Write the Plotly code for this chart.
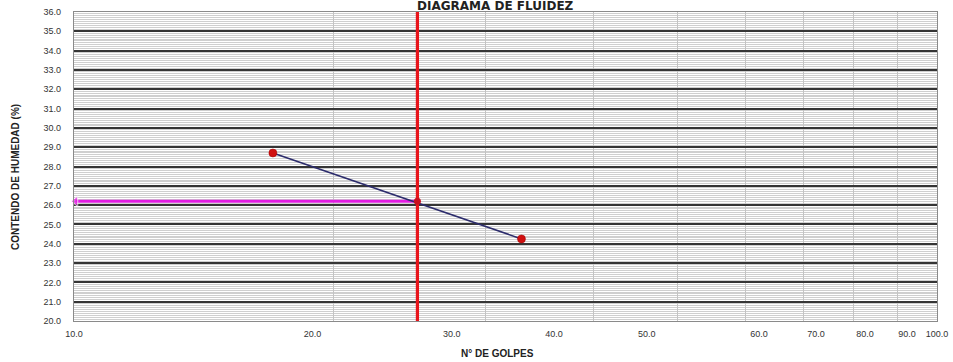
import plotly.graph_objects as go

# ---- data ----
golpes = [17, 33]                 # N° de golpes
humedad = [28.7, 24.25]           # contenido de humedad (%)
golpes_ref = 25                   # 25 golpes
humedad_ref = 26.2                # límite líquido leído
y_range = [20, 36]
x_range = [10, 100]
x_grid_vals = [10, 20, 30, 40, 50, 60, 70, 80, 90, 100]
x_label_pos = [10, 18.9, 27.4, 36.0, 46.1, 62.2, 72.4, 82.5, 92.3, 100]
x_label_txt = ["10.0", "20.0", "30.0", "40.0", "50.0", "60.0", "70.0", "80.0", "90.0", "100.0"]

FONT = "Liberation Sans, Arial, sans-serif"

fig = go.Figure()

# magenta horizontal reading line with arrow at the axis
fig.add_trace(go.Scatter(
    x=[x_range[0] * 1.004, golpes_ref], y=[humedad_ref, humedad_ref],
    mode="lines+markers",
    line=dict(color="#e21ee2", width=3),
    marker=dict(symbol="triangle-left", size=[9, 0], color="#e21ee2"),
    showlegend=False, hoverinfo="skip", cliponaxis=False))

# flow line
fig.add_trace(go.Scatter(
    x=golpes, y=humedad, mode="lines",
    line=dict(color="#2c2c6c", width=1.6),
    showlegend=False))

# red vertical line at 25 blows
fig.add_trace(go.Scatter(
    x=[golpes_ref, golpes_ref], y=y_range, mode="lines",
    line=dict(color="#e8141b", width=3.2),
    showlegend=False, hoverinfo="skip"))

# points
fig.add_trace(go.Scatter(
    x=golpes, y=humedad, mode="markers",
    marker=dict(color="#d01010", size=8, line=dict(color="#a00000", width=0.5)),
    showlegend=False))
fig.add_trace(go.Scatter(
    x=[golpes_ref], y=[humedad_ref], mode="markers",
    marker=dict(color="#c81020", size=7),
    showlegend=False))

# invisible trace for label axis
fig.add_trace(go.Scatter(x=[x_range[0]], y=[y_range[0]], xaxis="x2", mode="markers",
                         marker=dict(opacity=0), showlegend=False, hoverinfo="skip"))

fig.update_layout(
    width=953, height=362,
    margin=dict(l=74, r=16, t=12, b=41, autoexpand=False),
    paper_bgcolor="white", plot_bgcolor="white",
    font=dict(family=FONT, size=9, color="#333333"),
    xaxis=dict(
        type="log", range=[1, 2], automargin=False,
        tickvals=x_grid_vals, showticklabels=False,
        showgrid=True, gridcolor="#c4c4c4", gridwidth=1,
        showline=True, linecolor="#8a8a8a", linewidth=1.2, mirror=True,
        zeroline=False, ticks=""),
    xaxis2=dict(
        type="log", range=[1, 2], overlaying="x", side="bottom", automargin=False,
        tickvals=x_label_pos, ticktext=x_label_txt,
        showgrid=False, showline=False, zeroline=False,
        ticks="outside", ticklen=4, tickcolor="rgba(0,0,0,0)",
        tickfont=dict(family=FONT, size=9, color="#333333")),
    yaxis=dict(
        range=y_range, dtick=1, tickformat=".1f", automargin=False,
        showgrid=True, gridcolor="#353535", gridwidth=1.6,
        minor=dict(dtick=0.1, showgrid=True, gridcolor="#cfcfcf", gridwidth=1),
        showline=True, linecolor="#8a8a8a", linewidth=1.2, mirror=True,
        zeroline=False,
        ticks="outside", ticklen=10, tickcolor="rgba(0,0,0,0)",
        tickfont=dict(family=FONT, size=9, color="#333333")),
    annotations=[
        dict(text="<b>DIAGRAMA DE FLUIDEZ</b>", xref="paper", yref="paper",
             x=0.488, y=1.0, yshift=6, xanchor="center", yanchor="middle", showarrow=False,
             font=dict(family="DejaVu Sans, sans-serif", size=12, color="#222222")),
        dict(text="<b>CONTENDO DE HUMEDAD (%)</b>", xref="paper", yref="paper",
             x=-0.0684, y=0.466, xanchor="center", yanchor="middle", showarrow=False,
             textangle=-90, font=dict(family=FONT, size=10, color="#222222")),
        dict(text="<b>N° DE GOLPES</b>", xref="paper", yref="paper",
             x=0.491, y=-0.1036, xanchor="center", yanchor="middle", showarrow=False,
             font=dict(family=FONT, size=10, color="#222222")),
    ],
)

fig.write_html("out.html", config={"displayModeBar": False},
               post_script="document.body.style.margin='0';document.body.style.overflow='hidden';")
